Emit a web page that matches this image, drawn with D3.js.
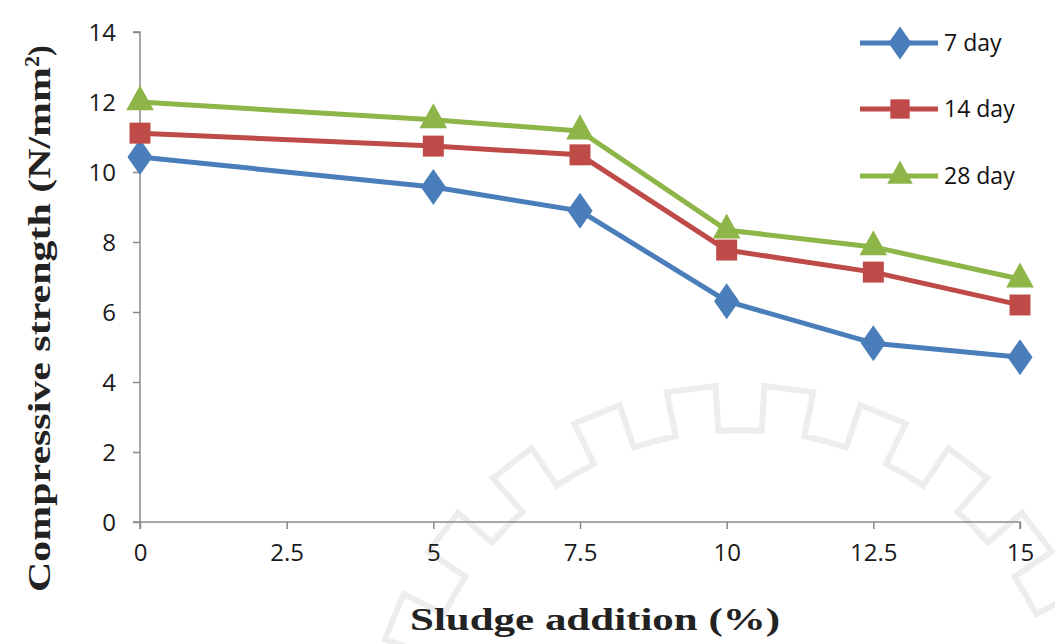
<!DOCTYPE html>
<html>
<head>
<meta charset="utf-8">
<script src="https://cdn.jsdelivr.net/npm/d3@7"></script>
<style>
  html, body { margin: 0; padding: 0; background: #fff; }
  svg { display: block; }
</style>
</head>
<body>
<svg id="chart" width="1055" height="644"></svg>
<script>
// Sludge addition (%) and compressive strength (N/mm²) at each curing age
const sludge = [0, 5, 7.5, 10, 12.5, 15];
const xTicks = [0, 2.5, 5, 7.5, 10, 12.5, 15];
const yTicks = [0, 2, 4, 6, 8, 10, 12, 14];
const day7  = [10.43, 9.57, 8.89, 6.31, 5.11, 4.71];
const day14 = [11.11, 10.74, 10.49, 7.77, 7.14, 6.20];
const day28 = [12.00, 11.49, 11.17, 8.34, 7.86, 6.94];
const seriesNames = ["7 day", "14 day", "28 day"];

const series = [
  { name: seriesNames[0], values: day7,  color: "#4A7EBB", symbol: d3.symbolDiamond,  size: 260, sx: 1.45, sy: 1.2 },
  { name: seriesNames[1], values: day14, color: "#BE4B48", symbol: d3.symbolSquare,   size: 440, sx: 1.0,  sy: 1.0 },
  { name: seriesNames[2], values: day28, color: "#8DB548", symbol: d3.symbolTriangle, size: 300, sx: 1.05, sy: 1.1 }
];

const svg = d3.select("#chart");
const x = d3.scaleLinear().domain([0, 15]).range([140, 1020]);
const y = d3.scaleLinear().domain([0, 14]).range([522, 32]);

// faint gear-shaped background seal
(function drawGear() {
  const cx = 740, cy = 760, rOut = 375, rIn = 330, teeth = 24;
  const pts = [];
  for (let i = 0; i < teeth; i++) {
    const a0 = (i / teeth) * 2 * Math.PI;
    const step = 2 * Math.PI / teeth;
    const seq = [[a0, rIn], [a0 + step * 0.25, rIn], [a0 + step * 0.25, rOut], [a0 + step * 0.75, rOut], [a0 + step * 0.75, rIn]];
    seq.forEach(([a, r]) => pts.push([cx + r * Math.cos(a), cy + r * Math.sin(a)]));
  }
  svg.append("path")
    .attr("d", d3.line()(pts) + "Z")
    .attr("fill", "none")
    .attr("stroke", "#ededed")
    .attr("stroke-width", 6);
})();

// y axis
const yAxis = d3.axisLeft(y).tickValues(yTicks).tickSize(7).tickPadding(17).tickFormat(d3.format("d"));
const gy = svg.append("g").attr("transform", "translate(140,0)").call(yAxis);
gy.select(".domain").attr("stroke", "#8a8a8a").attr("stroke-width", 1.5).attr("d", "M-7,32H0V522H-7");
gy.selectAll(".tick line").attr("stroke", "#8a8a8a").attr("stroke-width", 1.5);
gy.selectAll(".tick text").attr("fill", "#1a1a1a").style("font-family", "'Open Sans', sans-serif").style("font-size", "24px").attr("dy", "0.35em");

// x axis
const xAxis = d3.axisBottom(x).tickValues(xTicks).tickSize(7).tickPadding(15).tickFormat(d => String(d));
const gx = svg.append("g").attr("transform", "translate(0,522)").call(xAxis);
gx.select(".domain").attr("stroke", "#8a8a8a").attr("stroke-width", 1.5).attr("d", "M140,7V0H1020V7");
gx.selectAll(".tick line").attr("stroke", "#8a8a8a").attr("stroke-width", 1.5);
gx.selectAll(".tick text").attr("fill", "#1a1a1a").style("font-family", "'Open Sans', sans-serif").style("font-size", "24px");

// series lines and markers
const line = d3.line().x((d, i) => x(sludge[i])).y(d => y(d));
series.forEach(s => {
  svg.append("path")
    .datum(s.values)
    .attr("d", line)
    .attr("fill", "none")
    .attr("stroke", s.color)
    .attr("stroke-width", 5)
    .attr("stroke-linejoin", "round");
  svg.append("g").selectAll("path")
    .data(s.values)
    .join("path")
    .attr("d", d3.symbol().type(s.symbol).size(s.size))
    .attr("transform", (d, i) => `translate(${x(sludge[i])},${y(d)}) scale(${s.sx},${s.sy})`)
    .attr("fill", s.color);
});

// legend
const legend = svg.append("g");
const legY = [43, 109, 176];
series.forEach((s, i) => {
  const g = legend.append("g").attr("transform", `translate(0,${legY[i]})`);
  g.append("line").attr("x1", 860).attr("x2", 938).attr("y1", 0).attr("y2", 0)
    .attr("stroke", s.color).attr("stroke-width", 5);
  g.append("path").attr("d", d3.symbol().type(s.symbol).size(s.size * 0.85))
    .attr("transform", `translate(900,0) scale(${s.sx},${s.sy})`)
    .attr("fill", s.color);
  g.append("text").attr("x", 944).attr("y", 0).attr("dy", "0.35em")
    .style("font-family", "'Open Sans', sans-serif").style("font-size", "23px")
    .attr("fill", "#111").text(s.name);
});

// axis titles
svg.append("text")
  .attr("x", 410).attr("y", 630)
  .attr("textLength", 370).attr("lengthAdjust", "spacingAndGlyphs")
  .style("font-family", "'Liberation Serif', serif").style("font-weight", "bold").style("font-size", "31px")
  .attr("fill", "#222")
  .text("Sludge addition  (%)");

const yt = svg.append("text")
  .attr("transform", "translate(50,592) rotate(-90)")
  .attr("x", 0)
  .style("font-family", "'Liberation Serif', serif").style("font-weight", "bold").style("font-size", "32px")
  .attr("fill", "#222");
yt.append("tspan").attr("textLength", 525).attr("lengthAdjust", "spacingAndGlyphs").text("Compressive  strength (N/mm");
yt.append("tspan").attr("dy", "-11").style("font-size", "22px").text("2");
yt.append("tspan").attr("dy", "11").text(")");
</script>
</body>
</html>
